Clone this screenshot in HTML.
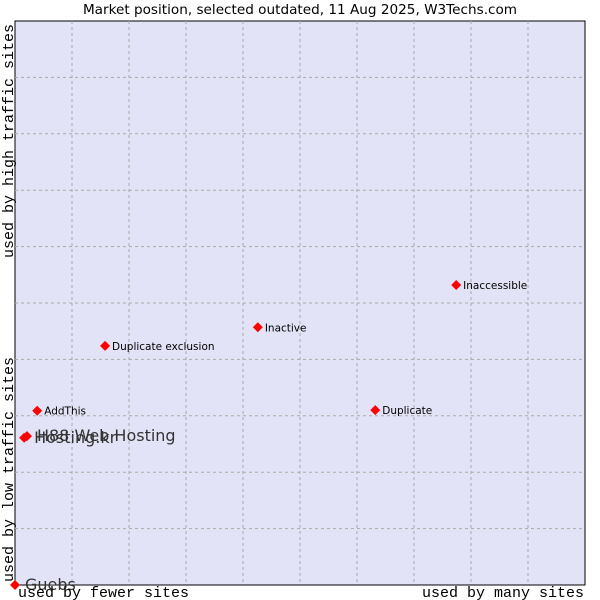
<!DOCTYPE html>
<html><head><meta charset="utf-8"><style>
body{margin:0;background:#fff;width:600px;height:600px;overflow:hidden}
svg{display:block}
</style></head><body>
<svg id="chart" width="600" height="600">
<text x="300" y="14" text-anchor="middle" font-family="DejaVu Sans, sans-serif" font-size="13.6" fill="#000">Market position, selected outdated, 11 Aug 2025, W3Techs.com</text>
<rect x="15" y="21" width="570" height="564" fill="#e3e3f7" stroke="#000" stroke-width="1"/>
<g id="grid"></g>
<g id="points"></g>
<text x="18" y="597" font-family="Liberation Mono, monospace" font-size="15">used by fewer sites</text>
<text x="584" y="597" text-anchor="end" font-family="Liberation Mono, monospace" font-size="15">used by many sites</text>
<text transform="translate(13,582) rotate(-90)" font-family="Liberation Mono, monospace" font-size="15">used by low traffic sites</text>
<text transform="translate(13,24) rotate(-90)" text-anchor="end" font-family="Liberation Mono, monospace" font-size="15">used by high traffic sites</text>
</svg>
<script>
const names=["Guebs","Hosting.kr","H88 Web Hosting","AddThis","Duplicate exclusion","Inactive","Duplicate","Inaccessible"];
const xs=[0,1.6,2.1,3.9,15.8,42.6,63.2,77.4];
const ys=[0,26.1,26.4,30.9,42.4,45.7,31.0,53.2];
const big=[true,true,true,false,false,false,false,false];
const L=15,T=21,W=570,H=564;
const sx=v=>L+v/100*W, sy=v=>T+H-v/100*H;
const NS="http://www.w3.org/2000/svg";
const g=document.getElementById('grid');
for(let i=1;i<10;i++){
 const a=document.createElementNS(NS,'line');
 a.setAttribute('x1',sx(i*10));a.setAttribute('x2',sx(i*10));a.setAttribute('y1',T);a.setAttribute('y2',T+H);
 a.setAttribute('stroke','#aaa');a.setAttribute('stroke-dasharray','3,3');
 
 
 g.appendChild(a);
 const b=document.createElementNS(NS,'line');
 b.setAttribute('y1',sy(i*10));b.setAttribute('y2',sy(i*10));b.setAttribute('x1',L);b.setAttribute('x2',L+W);
 b.setAttribute('stroke','#aaa');b.setAttribute('stroke-dasharray','3,3');
 
 
 g.appendChild(b);
}
const p=document.getElementById('points');
names.forEach((n,i)=>{
 const x=sx(xs[i]),y=sy(ys[i]);
 const d=document.createElementNS(NS,'path');
 d.setAttribute('d',`M${x-5},${y}L${x},${y-5}L${x+5},${y}L${x},${y+5}Z`);
 d.setAttribute('fill','#f00');
 
 
 p.appendChild(d);
 const t=document.createElementNS(NS,'text');
 t.setAttribute('x',x+(big[i]?10:7));
 t.setAttribute('y',y+(big[i]?5:4));
 t.setAttribute('font-family','DejaVu Sans, sans-serif');
 t.setAttribute('font-size',big[i]?16:10.5);
 t.setAttribute('fill',big[i]?'#333':'#000');
 t.textContent=n;
 
 
 p.appendChild(t);
});
</script>
</body></html>
